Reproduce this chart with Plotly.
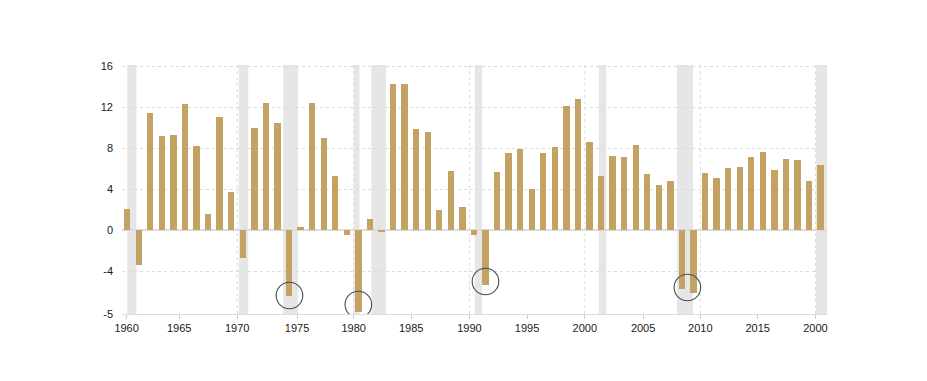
import plotly.graph_objects as go

# ---- data ----
years = list(range(1960, 2021))
values = [
    2.1, -3.4, 11.5, 9.2, 9.3, 12.3, 8.2, 1.6, 11.1, 3.7,      # 1960-69
    -2.7, 10.0, 12.4, 10.5, -6.4, 0.3, 12.4, 9.0, 5.3, -0.5,   # 1970-79
    -8.0, 1.1, -0.2, 14.3, 14.3, 9.9, 9.6, 2.0, 5.8, 2.3,      # 1980-89
    -0.5, -5.4, 5.7, 7.5, 7.9, 4.0, 7.5, 8.1, 12.1, 12.8,      # 1990-99
    8.6, 5.3, 7.3, 7.2, 8.3, 5.5, 4.4, 4.8, -5.75, -6.15,      # 2000-09
    5.6, 5.1, 6.1, 6.2, 7.2, 7.6, 5.9, 7.0, 6.9, 4.8,          # 2010-19
    6.4,                                                       # 2020
]

# recession periods (shaded bands)
rec_start = [1960.5, 1970.16, 1974.0, 1980.1, 1981.63, 1990.57, 2001.3, 2008.08, 2020.1]
rec_end = [1961.3, 1970.97, 1975.29, 1980.6, 1982.9, 1991.21, 2001.96, 2009.46, 2021.05]

# highlighted troughs (circled)
hl_x = [1974.54, 1980.5, 1991.5, 2008.97]
hl_y = [-6.39, -7.27, -5.02, -5.61]

# axis ticks
x_tick_vals = [1960.45, 1965.0, 1970.02, 1975.2, 1980.1, 1985.07, 1990.11,
               1995.1, 2000.09, 2005.14, 2010.09, 2015.05, 2020.05]
x_tick_text = ["1960", "1965", "1970", "1975", "1980", "1985", "1990",
               "1995", "2000", "2005", "2010", "2015", "2000"]
x_grid_vals = [1970.02, 1980.1, 1990.11, 2000.09, 2010.09, 2020.05]
y_tick_vals = [-8.2, -4, 0, 4, 8, 12, 16]
y_tick_text = ["-5", "-4", "0", "4", "8", "12", "16"]

BAR = "#C4A263"
BAND = "#E6E6E6"
GRID = "#DCDCDC"
CIRCLE = "#3E4F5A"

fig = go.Figure()
fig.add_trace(go.Bar(
    x=years, y=values,
    width=0.55, offset=0.225,
    marker=dict(color=BAR, line=dict(width=0)),
    hoverinfo="x+y",
))

shapes = []
for s, e in zip(rec_start, rec_end):
    shapes.append(dict(type="rect", xref="x", yref="paper", x0=s, x1=e, y0=0, y1=1,
                       fillcolor=BAND, line=dict(width=0), layer="below"))
for gx in x_grid_vals:
    shapes.append(dict(type="line", xref="x", yref="paper", x0=gx, x1=gx, y0=0, y1=1,
                       line=dict(color=GRID, width=1, dash="3px,3px"), layer="below"))
for cx, cy in zip(hl_x, hl_y):
    shapes.append(dict(type="circle", xref="x", yref="y", xsizemode="pixel", ysizemode="pixel",
                       xanchor=cx, yanchor=cy, x0=-13.3, x1=13.3, y0=-13.3, y1=13.3,
                       line=dict(color=CIRCLE, width=1.1), fillcolor="rgba(0,0,0,0)",
                       layer="above"))

# the page body has an 8px default margin, so the figure is drawn 8px smaller
fig.update_layout(
    width=919, height=373,
    margin=dict(l=114, r=100, t=57, b=67),
    paper_bgcolor="white", plot_bgcolor="white",
    showlegend=False, bargap=0,
    font=dict(family="Liberation Sans, Arial, sans-serif", size=11, color="#1a1a1a"),
    shapes=shapes,
    xaxis=dict(
        range=[1960.05, 2021.05],
        tickvals=x_tick_vals, ticktext=x_tick_text,
        showgrid=False, zeroline=False,
        showline=True, linecolor=GRID, linewidth=1,
        ticks="outside", ticklen=4, tickcolor="#CCCCCC", tickwidth=1,
        tickfont=dict(size=11, color="#1a1a1a"),
    ),
    yaxis=dict(
        range=[-8.2, 16.15],
        tickvals=y_tick_vals, ticktext=y_tick_text,
        showgrid=True, gridcolor=GRID, griddash="3px,3px", gridwidth=1,
        zeroline=True, zerolinecolor=GRID, zerolinewidth=1.5,
        showline=False, ticks="", ticklabelstandoff=8,
        tickfont=dict(size=11, color="#1a1a1a"),
        layer="above traces",
    ),
)

fig.write_html("out.html")
